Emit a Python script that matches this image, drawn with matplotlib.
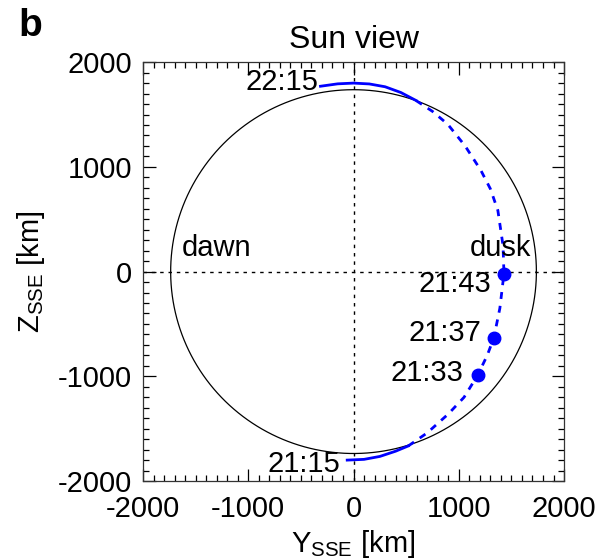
import matplotlib
matplotlib.use("Agg")
import matplotlib.pyplot as plt
import numpy as np
from matplotlib.ticker import MultipleLocator

plt.rcParams['font.family'] = ['Liberation Sans', 'DejaVu Sans']
plt.rcParams['mathtext.fontset'] = 'custom'
plt.rcParams['mathtext.rm'] = 'Liberation Sans'
plt.rcParams['mathtext.it'] = 'Liberation Sans:italic'
plt.rcParams['axes.unicode_minus'] = False

moon_radius = 1737.0

# trajectory (Y_SSE, Z_SSE in km), in time order
bottom_y = [-60, 100, 250, 400, 520]
bottom_z = [-1800, -1793, -1765, -1715, -1665]

hidden_y = [520, 700, 900, 1050, 1181, 1270, 1333, 1390, 1429, 1420, 1371, 1300, 1210, 1060, 895, 750, 590]
hidden_z = [-1665, -1540, -1360, -1200, -986, -800, -632, -350, -19, 250, 584, 790, 966, 1200, 1407, 1530, 1636]

top_y = [590, 450, 300, 150, 0, -150, -314]
top_z = [1636, 1710, 1765, 1792, 1800, 1793, 1770]

dot_times = ["21:33", "21:37", "21:43"]
dot_y = [1181, 1333, 1429]
dot_z = [-986, -632, -19]

fig = plt.figure(figsize=(6.02, 5.60), dpi=100)
ax = fig.add_axes([0.2375, 0.141, 0.6995, 0.748])

theta = np.linspace(0, 2 * np.pi, 400)
ax.plot(moon_radius * np.cos(theta), moon_radius * np.sin(theta), color='black', lw=0.9)

ax.axhline(0, color='black', lw=1, ls=(0, (2.5, 3.5)))
ax.axvline(0, color='black', lw=1, ls=(0, (2.5, 3.5)))

ax.plot(bottom_y, bottom_z, color='blue', lw=2)
ax.plot(hidden_y, hidden_z, color='blue', lw=2, ls=(0, (2.5, 2.5)))
ax.plot(top_y, top_z, color='blue', lw=2)
ax.plot(dot_y, dot_z, 'o', color='blue', ms=9)

fs = 21
ax.text(-330, 1810, "22:15", ha='right', va='center', fontsize=fs)
ax.text(-124, -1837, "21:15", ha='right', va='center', fontsize=fs)
label_off = [(1048, -966), (1210, -584), (1305, -115)]
for t, (lx, lz) in zip(dot_times, label_off):
    ax.text(lx, lz, t, ha='right', va='center', fontsize=fs)
ax.text(-1629, 230, "dawn", ha='left', va='center', fontsize=fs)
ax.text(1400, 230, "dusk", ha='center', va='center', fontsize=fs)

ax.set_xlim(-2000, 2000)
ax.set_ylim(-2000, 2000)
ax.xaxis.set_major_locator(MultipleLocator(1000))
ax.yaxis.set_major_locator(MultipleLocator(1000))
ax.xaxis.set_minor_locator(MultipleLocator(100))
ax.yaxis.set_minor_locator(MultipleLocator(100))
ax.tick_params(which='both', direction='in', top=True, right=True, labelsize=fs, width=0.9)
ax.tick_params(which='major', length=9, pad=8)
ax.tick_params(axis='x', which='major', pad=10)
ax.tick_params(which='minor', length=4.5)
for s in ax.spines.values():
    s.set_linewidth(0.9)
    s.set_color('#333333')

ax.set_title("Sun view", fontsize=23, pad=10)
ax.set_xlabel(r"Y$_{\rm SSE}$ [km]", fontsize=fs, labelpad=4)
ax.set_ylabel(r"Z$_{\rm SSE}$ [km]", fontsize=fs, labelpad=8)

fig.text(0.03, 0.985, "b", fontsize=28, fontweight='bold', va='top', ha='left')

fig.savefig("out.png", dpi=100)
